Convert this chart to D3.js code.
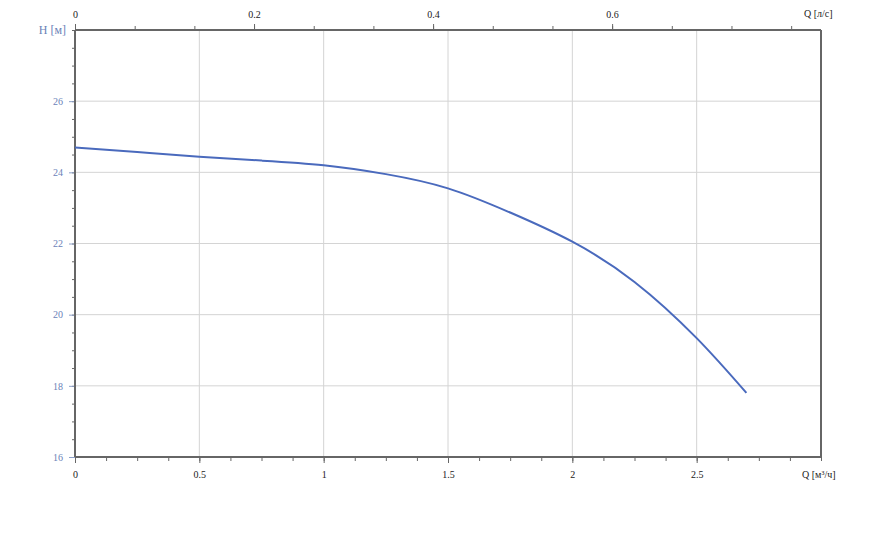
<!DOCTYPE html>
<html><head><meta charset="utf-8">
<script src="https://cdn.jsdelivr.net/npm/d3@7"></script>
<style>body{margin:0;background:#fff}svg{display:block}svg text{font-family:"Liberation Serif","DejaVu Serif",serif !important}</style>
</head><body>
<script>
const flowM3h = [0, 0.25, 0.5, 0.75, 1, 1.25, 1.5, 1.75, 2, 2.25, 2.5, 2.7];
const headM = [24.70, 24.57, 24.44, 24.33, 24.20, 23.95, 23.55, 22.87, 22.05, 20.92, 19.34, 17.80];
const bottomTicks = [0, 0.5, 1, 1.5, 2, 2.5];
const topTicks = [0, 0.2, 0.4, 0.6];
const leftTicks = [16, 18, 20, 22, 24, 26];

const W = 896, H = 544;
const m = {l: 75, r: 821, t: 30, b: 457};
const svg = d3.select("body").append("svg").attr("width", W).attr("height", H);
const x = d3.scaleLinear().domain([0, 3]).range([m.l, m.r]);
const xTop = d3.scaleLinear().domain([0, 3 / 3.6]).range([m.l, m.r]);
const y = d3.scaleLinear().domain([16, 28]).range([m.b, m.t]);
const axisCol = "#666", gridCol = "#d4d4d4", blue = "#4a6abd", labBlue = "#6a82b8";

// grid
svg.append("g").selectAll("line").data(bottomTicks.filter(d => d > 0))
  .join("line").attr("x1", d => x(d)).attr("x2", d => x(d)).attr("y1", m.t).attr("y2", m.b)
  .attr("stroke", gridCol).attr("stroke-width", 1);
svg.append("g").selectAll("line").data(leftTicks.filter(d => d > 16))
  .join("line").attr("y1", d => y(d)).attr("y2", d => y(d)).attr("x1", m.l).attr("x2", m.r)
  .attr("stroke", gridCol).attr("stroke-width", 1);

// minor ticks
const minorB = d3.range(0, 3.0001, 0.125);
const minorT = d3.range(0, 0.8334, 0.2 / 3);
const minorL = d3.range(16, 28.001, 0.5);

function styleAxis(g) {
  g.attr("font-family", null);
  g.selectAll(".domain").remove();
  g.selectAll("line").attr("stroke", axisCol);
  g.selectAll("text").attr("font-size", 10).style("font-family", '"Liberation Serif",serif');
}
// bottom
svg.append("g").attr("transform", `translate(0,${m.b})`)
  .call(d3.axisBottom(x).tickValues(minorB).tickSize(4).tickFormat("")).call(styleAxis);
svg.append("g").attr("transform", `translate(0,${m.b})`)
  .call(d3.axisBottom(x).tickValues(bottomTicks).tickSize(6).tickPadding(8).tickFormat(d3.format("")))
  .call(styleAxis).call(g => g.selectAll("text").attr("fill", "#222"));
// top
svg.append("g").attr("transform", `translate(0,${m.t})`)
  .call(d3.axisTop(xTop).tickValues(minorT).tickSize(4).tickFormat("")).call(styleAxis);
svg.append("g").attr("transform", `translate(0,${m.t})`)
  .call(d3.axisTop(xTop).tickValues(topTicks).tickSize(6).tickPadding(6).tickFormat(d3.format("")))
  .call(styleAxis).call(g => g.selectAll("text").attr("fill", "#222"));
// left
svg.append("g").attr("transform", `translate(${m.l},0)`)
  .call(d3.axisLeft(y).tickValues(minorL).tickSize(3).tickFormat("")).call(styleAxis);
svg.append("g").attr("transform", `translate(${m.l},0)`)
  .call(d3.axisLeft(y).tickValues(leftTicks).tickSize(6).tickPadding(6).tickFormat(d3.format("")))
  .call(styleAxis).call(g => { g.selectAll("text").attr("fill", labBlue); g.selectAll("line").attr("stroke", "#8da0c8"); });

// frame
svg.append("line").attr("x1", m.l).attr("x2", m.r).attr("y1", m.b).attr("y2", m.b).attr("stroke", axisCol).attr("stroke-width", 2);
svg.append("line").attr("x1", m.l).attr("x2", m.r).attr("y1", m.t).attr("y2", m.t).attr("stroke", axisCol).attr("stroke-width", 2);
svg.append("line").attr("x1", m.l).attr("x2", m.l).attr("y1", m.t).attr("y2", m.b).attr("stroke", axisCol).attr("stroke-width", 2);
svg.append("line").attr("x1", m.r).attr("x2", m.r).attr("y1", m.t).attr("y2", m.b).attr("stroke", axisCol).attr("stroke-width", 2);

// labels
svg.append("text").attr("x", 66).attr("y", 34).attr("text-anchor", "end").attr("font-size", 12).attr("fill", labBlue).text("H [м]");
svg.append("text").attr("x", 804).attr("y", 17).attr("font-size", 10).attr("fill", "#222").text("Q [л/с]");
svg.append("text").attr("x", 802).attr("y", 478).attr("font-size", 10).attr("fill", "#222").text("Q [м³/ч]");

// curve
const pts = flowM3h.map((q, i) => [q, headM[i]]);
svg.append("path").datum(pts)
  .attr("d", d3.line().x(d => x(d[0])).y(d => y(d[1])).curve(d3.curveNatural))
  .attr("fill", "none").attr("stroke", blue).attr("stroke-width", 2);
</script>
</body></html>
